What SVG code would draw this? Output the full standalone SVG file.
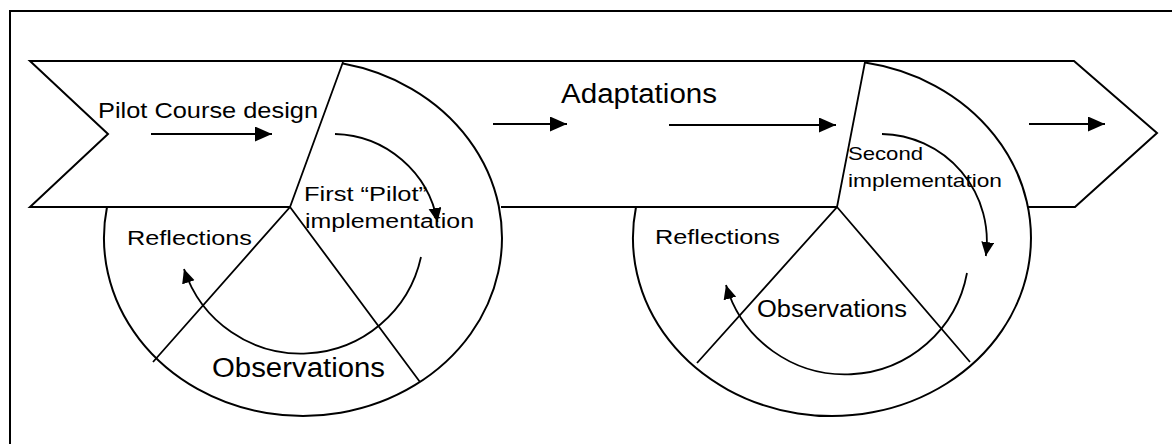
<svg xmlns="http://www.w3.org/2000/svg" width="1172" height="444" viewBox="0 0 1172 444">
  <defs>
    <style>
      .ln { fill: none; stroke: #000; stroke-width: 2; stroke-linejoin: miter; }
      .thin { fill: none; stroke: #000; stroke-width: 1.8; }
      .lbl { font-family: "Liberation Sans", Arial, sans-serif; fill: #000; }
    </style>
    <marker id="headL" markerUnits="userSpaceOnUse" markerWidth="18" markerHeight="16" refX="17" refY="7.5" orient="auto">
      <path d="M0,0 L17,7.5 L0,15 Z" fill="#000"/>
    </marker>
    <marker id="headS" markerUnits="userSpaceOnUse" markerWidth="15" markerHeight="14" refX="14" refY="6.5" orient="auto">
      <path d="M0,0 L14,6.5 L0,13 Z" fill="#000"/>
    </marker>
  </defs>

  <rect width="1172" height="444" fill="#fff"/>

  <!-- page frame (runs off the right and bottom edges) -->
  <rect id="frame" x="10" y="11" width="1200" height="500" class="ln"/>

  <!-- process banner -->
  <g id="banner">
    <path class="ln" d="M1028,207 L1075,207 L1157,133 L1074,61 L30,61 L108,134 L30,207 L290,207"/>
    <path class="ln" d="M501,207 L837,207"/>
    <text class="lbl" x="98" y="118" font-size="22" textLength="220" lengthAdjust="spacingAndGlyphs">Pilot Course design</text>
    <text class="lbl" x="561" y="103" font-size="27" textLength="156" lengthAdjust="spacingAndGlyphs">Adaptations</text>
  </g>

  <!-- first cycle -->
  <g id="cycle1">
    <path class="ln" d="M343,63.6 A199,178 0 1 1 107,207"/>
    <path class="thin" d="M343,62 L290,207 L153,362 M290,207 L420,382"/>
    <text class="lbl" x="304" y="201" font-size="20" textLength="123" lengthAdjust="spacingAndGlyphs">First “Pilot”</text>
    <text class="lbl" x="305" y="228" font-size="20" textLength="169" lengthAdjust="spacingAndGlyphs">implementation</text>
    <text class="lbl" x="127" y="245" font-size="20" textLength="125" lengthAdjust="spacingAndGlyphs">Reflections</text>
    <text class="lbl" x="212" y="377" font-size="27" textLength="173" lengthAdjust="spacingAndGlyphs">Observations</text>
  </g>

  <!-- second cycle -->
  <g id="cycle2">
    <path class="ln" d="M865,62.5 A199,178 0 1 1 636,207"/>
    <path class="thin" d="M865,62 L837,207 L697,363 M837,207 L970,362"/>
    <text class="lbl" x="848" y="160" font-size="19" textLength="75" lengthAdjust="spacingAndGlyphs">Second</text>
    <text class="lbl" x="848" y="187" font-size="19" textLength="154" lengthAdjust="spacingAndGlyphs">implementation</text>
    <text class="lbl" x="655" y="244" font-size="20" textLength="125" lengthAdjust="spacingAndGlyphs">Reflections</text>
    <text class="lbl" x="757" y="317" font-size="23" textLength="150" lengthAdjust="spacingAndGlyphs">Observations</text>
  </g>

  <!-- flow arrows -->
  <g id="connectors">
    <path class="ln" d="M151,134 L272,134" marker-end="url(#headL)"/>
    <path class="ln" d="M493,124 L567,124" marker-end="url(#headL)"/>
    <path class="ln" d="M669,125 L836,125" marker-end="url(#headL)"/>
    <path class="ln" d="M1029,124 L1105,124" marker-end="url(#headL)"/>
    <path class="thin" d="M335,134 A107,107 0 0 1 437.5,222" marker-end="url(#headS)"/>
    <path class="thin" d="M421,257 A123,123 0 0 1 184,269" marker-end="url(#headS)"/>
    <path class="thin" d="M882,134 A107,107 0 0 1 985.8,256" marker-end="url(#headS)"/>
    <path class="thin" d="M967,273 A124,124 0 0 1 726,285" marker-end="url(#headS)"/>
  </g>
</svg>
